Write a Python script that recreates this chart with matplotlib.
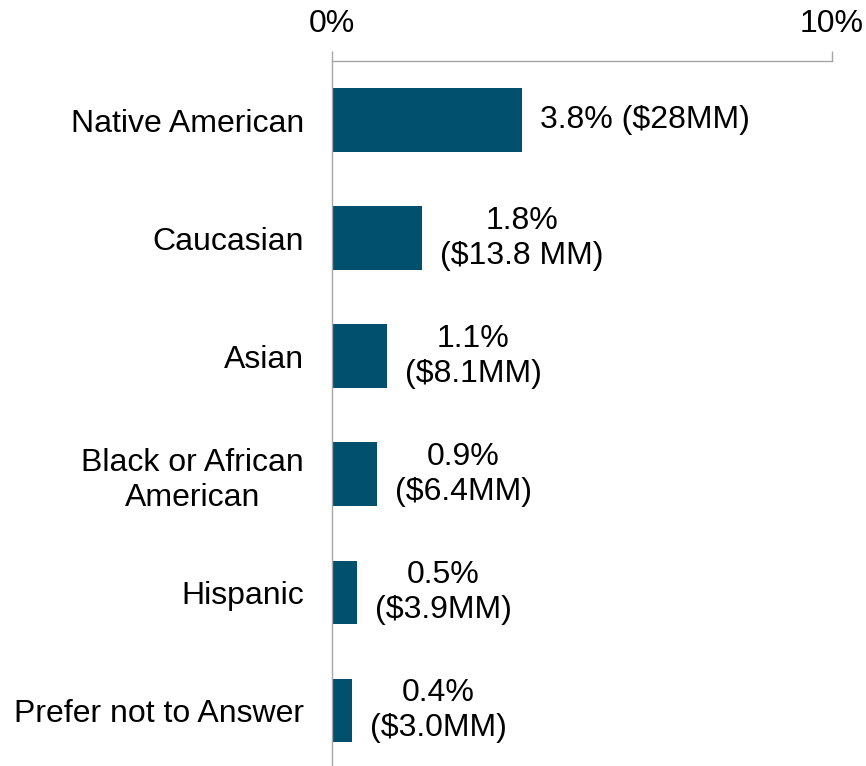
import matplotlib.pyplot as plt

plt.rcParams['font.family'] = ['Liberation Sans', 'DejaVu Sans']

categories = ["Native American", "Caucasian", "Asian", "Black or African\nAmerican",
              "Hispanic", "Prefer not to Answer"]
values = [3.8, 1.8, 1.1, 0.9, 0.5, 0.4]
labels = ["3.8% ($28MM)", "1.8%\n($13.8 MM)", "1.1%\n($8.1MM)", "0.9%\n($6.4MM)",
          "0.5%\n($3.9MM)", "0.4%\n($3.0MM)"]
xticks = [0, 10]
xticklabels = ["0%", "10%"]

bar_color = '#00506e'
axis_color = '#a6a6a6'

fig = plt.figure(figsize=(8.66, 7.66), dpi=100)
ax = fig.add_axes([332 / 866, 0, 500 / 866, 1 - 61 / 766])

pos = list(range(len(categories)))
ax.barh(pos, values, height=0.54, color=bar_color)

for p, v, lab in zip(pos, values, labels):
    ax.annotate(lab, xy=(v, p), xytext=(13, 0), textcoords='offset points',
                ha='left', va='center', multialignment='center',
                fontsize=23, linespacing=1.22)

ax.set_xlim(0, 10)
ax.set_ylim(5.47, -0.5)
ax.set_xticks(xticks)
ax.set_xticklabels(xticklabels, fontsize=23)
ax.xaxis.tick_top()
ax.tick_params(axis='x', direction='out', length=7, width=1, color=axis_color, pad=9)

ax.set_yticks(pos)
ax.set_yticklabels(categories, fontsize=23, multialignment='center', linespacing=1.22)
ax.tick_params(axis='y', length=0, pad=20)

for s in ['right', 'bottom']:
    ax.spines[s].set_visible(False)
for s in ['top', 'left']:
    ax.spines[s].set_color(axis_color)
    ax.spines[s].set_linewidth(1)

fig.savefig('out.png', dpi=100)
